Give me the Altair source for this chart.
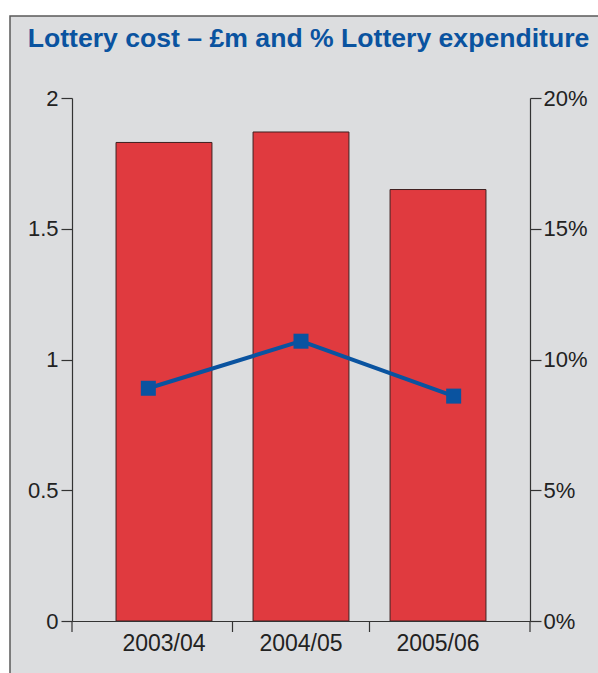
import altair as alt
import pandas as pd

years = ["2003/04", "2004/05", "2005/06"]
cost_m = [1.83, 1.87, 1.65]
pct_expenditure = [8.9, 10.7, 8.6]

W, H = 458, 523
BG = "#dcdddf"
RED = "#e03a3f"
BLUE = "#0a53a0"
AX = "#333333"
FONT = "Liberation Sans"
LFS = 22

df = pd.DataFrame({"year": years, "cost": cost_m, "pct": pct_expenditure})

x_bar = alt.X("year:N", sort=years,
              scale=alt.Scale(paddingInner=0, paddingOuter=0.1715),
              axis=alt.Axis(title=None, ticks=False, labelAngle=0, labelPadding=11,
                            labelFontSize=23, labelColor="#222222", labelFont=FONT,
                            domainColor=AX, domainWidth=1.2, zindex=1))

frame = alt.Chart(alt.Data(values=[{}])).mark_rect(
    fill=BG, stroke="#5a5a5a", strokeWidth=1.5
).encode(x=alt.value(10 - 72), y=alt.value(16 - 98), x2=alt.value(700), y2=alt.value(700))

bars = alt.Chart(df).mark_bar(
    color=RED, stroke="#3f2020", strokeWidth=1, width=alt.RelativeBandSize(0.7)
).encode(
    x=x_bar,
    y=alt.Y("cost:Q", scale=alt.Scale(domain=[0, 2], nice=False),
            axis=alt.Axis(title=None, values=[0, 0.5, 1, 1.5, 2], format="~g",
                          grid=False, tickSize=11, tickColor=AX, tickWidth=1.2,
                          domainColor=AX, domainWidth=1.2, labelPadding=3,
                          labelFontSize=LFS, labelColor="#222222", labelFont=FONT,
                          zindex=1)),
)

tick_df = pd.DataFrame({"year": years[1:]})
mid_ticks = alt.Chart(tick_df).mark_rule(color=AX, strokeWidth=1.2).encode(
    x=alt.X("year:N", sort=years, bandPosition=0,
            scale=alt.Scale(domain=years, paddingInner=0, paddingOuter=0.1715),
            axis=None),
    y=alt.value(H), y2=alt.value(H + 11),
)

end_left = alt.Chart(alt.Data(values=[{}])).mark_rule(color=AX, strokeWidth=1.2).encode(
    x=alt.value(0), y=alt.value(H), y2=alt.value(H + 11))
end_right = alt.Chart(alt.Data(values=[{}])).mark_rule(color=AX, strokeWidth=1.2).encode(
    x=alt.value(W), y=alt.value(H), y2=alt.value(H + 11))

line = alt.Chart(df).mark_line(
    color=BLUE, strokeWidth=4,
    point=alt.OverlayMarkDef(shape="square", size=225, filled=True, color=BLUE, opacity=1),
).encode(
    x=alt.X("year:N", sort=years, scale=alt.Scale(paddingInner=0, paddingOuter=0), axis=None),
    y=alt.Y("pct:Q", scale=alt.Scale(domain=[0, 20], nice=False),
            axis=alt.Axis(title=None, orient="right", values=[0, 5, 10, 15, 20],
                          labelExpr="datum.value + '%'",
                          grid=False, tickSize=11, tickColor=AX, tickWidth=1.2,
                          domainColor=AX, domainWidth=1.2, labelPadding=2,
                          labelFontSize=LFS, labelColor="#222222", labelFont=FONT,
                          zindex=1)),
)

chart = alt.layer(frame, bars, mid_ticks, end_left, end_right, line).resolve_scale(
    x="independent", y="independent"
).properties(
    width=W, height=H,
    autosize=alt.AutoSizeParams(type="none"),
    padding={"left": 72, "top": 98, "right": 68, "bottom": 52},
    background="white",
    title=alt.TitleParams(
        "Lottery cost \u2013 \u00a3m and % Lottery expenditure",
        anchor="start", dx=18.5, dy=58, font=FONT, fontSize=26.6, fontWeight="bold",
        color=BLUE, zindex=1, baseline="alphabetic", offset=0,
    ),
).configure_view(stroke=None)

chart.save("out.html", embed_options={"renderer": "svg", "actions": False})
